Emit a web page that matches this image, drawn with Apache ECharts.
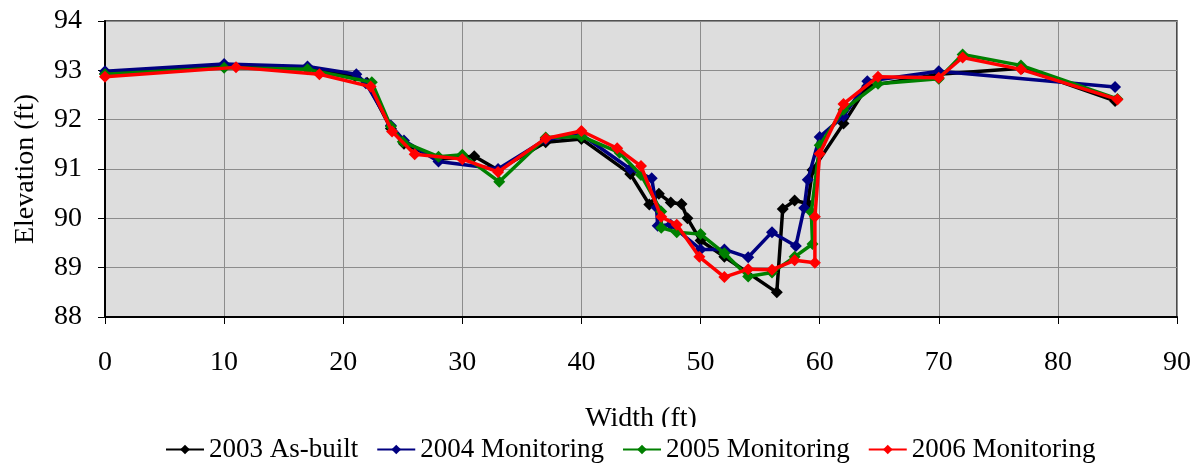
<!DOCTYPE html>
<html>
<head>
<meta charset="utf-8">
<script src="https://cdn.jsdelivr.net/npm/echarts@6/dist/echarts.min.js"></script>
<style>html,body{margin:0;padding:0;background:#fff;}#c{width:1199px;height:476px;}</style>
</head>
<body>
<div id="c"></div>
<script>
// Data: [width (ft), elevation (ft)]
var asBuilt2003 = [[0,92.93],[10,93.08],[17,93.06],[21,92.88],[22,92.75],[24,91.82],[25.1,91.51],[28,91.2],[31,91.26],[33,90.98],[37,91.54],[40,91.61],[44.1,90.9],[45.7,90.28],[46.5,90.5],[47.5,90.32],[48.4,90.29],[48.9,90.0],[50,89.55],[52,89.22],[56.4,88.5],[56.9,90.19],[57.9,90.36],[59,90.3],[59.4,90.98],[62,91.92],[64,92.68],[70,92.92],[77,93.04],[84.8,92.38]];
var monitoring2004 = [[0,92.98],[10,93.13],[17,93.08],[21.1,92.92],[21.9,92.74],[24,91.88],[25.1,91.58],[28,91.15],[33,91.0],[37,91.6],[40,91.7],[44.1,91.0],[45.9,90.81],[46.3,90.22],[46.4,89.85],[47.5,89.87],[50,89.37],[52,89.37],[54,89.21],[56,89.72],[58,89.44],[58.7,90.21],[59,90.78],[60,91.65],[62,92.07],[64,92.78],[70,92.98],[84.8,92.66]];
var monitoring2005 = [[0,92.92],[10,93.05],[17,93.02],[22.4,92.76],[24,91.86],[25,91.55],[28,91.25],[30,91.29],[33.1,90.74],[37,91.64],[40,91.66],[43.2,91.33],[45,90.88],[46.7,90.14],[46.7,89.81],[48,89.72],[50,89.68],[52,89.29],[54,88.82],[56,88.9],[57.9,89.22],[59.4,89.48],[59.3,90.13],[60,91.48],[62,92.2],[64.9,92.73],[70,92.83],[72,93.32],[76.9,93.1],[85,92.42]];
var monitoring2006 = [[0,92.87],[11,93.06],[18,92.92],[22.3,92.67],[24.1,91.76],[26,91.3],[30,91.2],[33,90.94],[37,91.62],[40,91.77],[43,91.42],[45,91.06],[46.7,90.03],[48,89.87],[49.9,89.22],[52,88.81],[54,88.97],[56,88.96],[57.9,89.15],[59.6,89.1],[59.6,90.03],[60,91.31],[62,92.32],[64.9,92.87],[70,92.85],[72,93.26],[76.9,93.02],[85,92.41]];

var seriesNames = ['2003 As-built','2004 Monitoring','2005 Monitoring','2006 Monitoring'];
var seriesData = [asBuilt2003, monitoring2004, monitoring2005, monitoring2006];
var seriesColors = ['#000000','#000080','#008000','#FF0000'];

var FONT = '"Liberation Serif","Times New Roman",serif';
var chart = echarts.init(document.getElementById('c'), null, {renderer:'canvas'});
var series = seriesNames.map(function(n,i){
  return {
    name:n, type:'line', data:seriesData[i],
    symbol:'diamond', symbolSize:12, showSymbol:true,
    lineStyle:{color:seriesColors[i], width:3.5},
    itemStyle:{color:seriesColors[i]},
    emphasis:{disabled:true}, animation:false, z:2+i
  };
});
chart.setOption({
  animation:false,
  grid:{left:105, right:22, top:21, bottom:159, show:true, backgroundColor:'#DDDDDD', borderColor:'#1A1A1A', borderWidth:1.5, containLabel:false},
  xAxis:{
    type:'value', min:0, max:90, interval:10,
    name:'Width (ft)', nameLocation:'middle', nameGap:88,
    nameTextStyle:{fontFamily:FONT, fontSize:28, color:'#000'},
    axisLine:{show:true, onZero:false, lineStyle:{color:'#000', width:2}},
    axisTick:{show:true, length:7, lineStyle:{color:'#000', width:1}},
    axisLabel:{fontFamily:FONT, fontSize:28, color:'#000', margin:32},
    splitLine:{show:true, lineStyle:{color:'#8C8C8C', width:1}}
  },
  yAxis:{
    type:'value', min:88, max:94, interval:1,
    name:'Elevation (ft)', nameLocation:'middle', nameGap:65,
    nameTextStyle:{fontFamily:FONT, fontSize:28, color:'#000'},
    axisLine:{show:true, onZero:false, lineStyle:{color:'#000', width:2}},
    axisTick:{show:true, length:7, lineStyle:{color:'#000', width:1}},
    axisLabel:{fontFamily:FONT, fontSize:28, color:'#000', margin:23},
    splitLine:{show:true, lineStyle:{color:'#8C8C8C', width:1}}
  },
  legend:{
    data:seriesNames, left:159, top:427,
    itemWidth:38, itemHeight:12, itemGap:18,
    backgroundColor:'#FFFFFF', padding:[9,6,6,6],
    textStyle:{fontFamily:FONT, fontSize:27, color:'#000'}
  },
  series:series
});
</script>
</body>
</html>
